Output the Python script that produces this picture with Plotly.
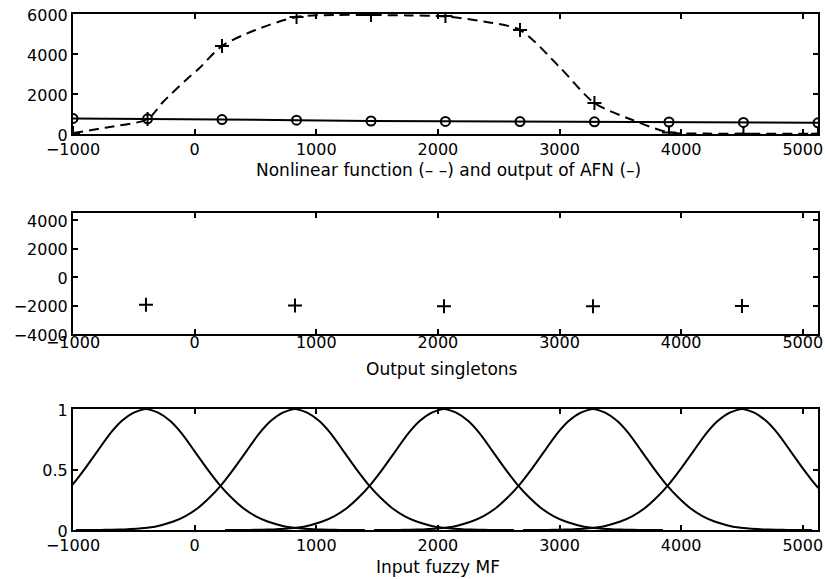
import plotly.graph_objects as go

# ---------------- data ----------------
# top panel: nonlinear function (dashed) and AFN output (solid, circles)
nl_x = [-1000, -700, -387, -260, -80, 40, 225, 500, 838, 1150, 1450, 1750, 2062, 2400, 2675, 3000, 3287, 3600, 3900, 4200, 4512, 5125]
nl_y = [50, 350, 750, 1600, 2650, 3300, 4400, 5200, 5850, 5950, 5950, 5930, 5880, 5600, 5200, 3350, 1550, 700, 80, 20, 10, 10]
samp_x = [-1000, -387, 225, 838, 1450, 2062, 2675, 3287, 3900, 4512, 5125]
samp_nl = [50, 750, 4400, 5850, 5950, 5900, 5200, 1550, 80, 10, 10]
afn_y = [780, 760, 720, 690, 650, 630, 620, 610, 600, 580, 560]

# middle panel: output singletons
sing_x = [-400, 825, 2050, 3275, 4500]
sing_y = [-1950, -2000, -2050, -2050, -2030]

# bottom panel: input fuzzy MF (centres + shape read at offsets)
mf_centers = [-400, 825, 2050, 3275, 4500]
mf_offsets = [0, 100, 200, 300, 400, 500, 600, 700, 800, 900, 1000, 1100, 1200, 1300, 1400, 1500, 1600, 1800]
mf_shape = [1.0, 0.97, 0.90, 0.79, 0.65, 0.51, 0.38, 0.27, 0.18, 0.115, 0.07, 0.04, 0.02, 0.011, 0.005, 0.002, 0.001, 0.0]

x_ticks = [-1000, 0, 1000, 2000, 3000, 4000, 5000]
xrange = [-1000, 5125]
titles = ["Nonlinear function (– –) and output of AFN (–)", "Output singletons", "Input fuzzy MF"]

# ---------------- figure ----------------
fig = go.Figure()
LW = 2

fig.add_trace(go.Scatter(x=nl_x, y=nl_y, mode="lines",
                         line=dict(color="black", width=LW, dash="10px,6px", shape="spline", smoothing=0.8),
                         xaxis="x", yaxis="y", showlegend=False))
fig.add_trace(go.Scatter(x=samp_x, y=samp_nl, mode="markers",
                         marker=dict(symbol="cross-thin", size=10, line=dict(color="black", width=2)),
                         xaxis="x", yaxis="y", showlegend=False))
fig.add_trace(go.Scatter(x=samp_x, y=afn_y, mode="lines+markers", line=dict(color="black", width=LW),
                         marker=dict(symbol="circle-open", size=9, color="black", line=dict(width=2)),
                         xaxis="x", yaxis="y", showlegend=False))

fig.add_trace(go.Scatter(x=sing_x, y=sing_y, mode="markers",
                         marker=dict(symbol="cross-thin", size=10, line=dict(color="black", width=2)),
                         xaxis="x2", yaxis="y2", showlegend=False))

for c in mf_centers:
    xs = [c - o for o in mf_offsets[::-1]] + [c + o for o in mf_offsets[1:]]
    ys = mf_shape[::-1] + mf_shape[1:]
    fig.add_trace(go.Scatter(x=xs, y=ys, mode="lines",
                             line=dict(color="black", width=LW, shape="spline", smoothing=0.6),
                             xaxis="x3", yaxis="y3", showlegend=False))

W, H = 825, 579
xdom = [73 / W, 818 / W]
def ydom(top, bot):
    return [1 - bot / H, 1 - top / H]

FAM = "DejaVu Sans, Verdana, sans-serif"
tfont = dict(family=FAM, size=16, color="black")
axcommon = dict(showline=True, linecolor="black", linewidth=2, mirror="ticks", ticks="inside", ticklen=5,
                tickwidth=1.5, tickcolor="black", showgrid=False, zeroline=False, tickfont=tfont,
                automargin=False)

def xa(anchor, standoff=0):
    d = dict(axcommon)
    d.update(domain=xdom, range=xrange, tickvals=x_ticks, anchor=anchor, ticklabelstandoff=standoff)
    return d

def ya(anchor, top, bot, rng, ticks):
    d = dict(axcommon)
    d.update(domain=ydom(top, bot), range=rng, tickvals=ticks, anchor=anchor, ticklabelshift=1)
    return d

fig.update_layout(
    width=W, height=H, margin=dict(l=0, r=0, t=0, b=0),
    paper_bgcolor="white", plot_bgcolor="white", font=tfont,
    xaxis=xa("y", 0),
    yaxis=ya("x", 14, 134, [0, 6000], [0, 2000, 4000, 6000]),
    xaxis2=xa("y2", -7),
    yaxis2=ya("x2", 213, 334, [-4000, 4500], [-4000, -2000, 0, 2000, 4000]),
    xaxis3=xa("y3", 0),
    yaxis3=ya("x3", 409, 530, [0, 1], [0, 0.5, 1]),
)

# x-axis titles (placed below each panel)
fig.add_annotation(text=titles[0], x=449 / W, y=1 - 170 / H, xref="paper", yref="paper",
                   xanchor="center", yanchor="middle", showarrow=False,
                   font=dict(family=FAM, size=17, color="black"))
fig.add_annotation(text=titles[1], x=442 / W, y=1 - 369 / H, xref="paper", yref="paper",
                   xanchor="center", yanchor="middle", showarrow=False,
                   font=dict(family=FAM, size=17, color="black"))
fig.add_annotation(text=titles[2], x=438 / W, y=0, xref="paper", yref="paper",
                   xanchor="center", yanchor="bottom", showarrow=False,
                   font=dict(family=FAM, size=17, color="black"))

fig.write_html("out.html")
